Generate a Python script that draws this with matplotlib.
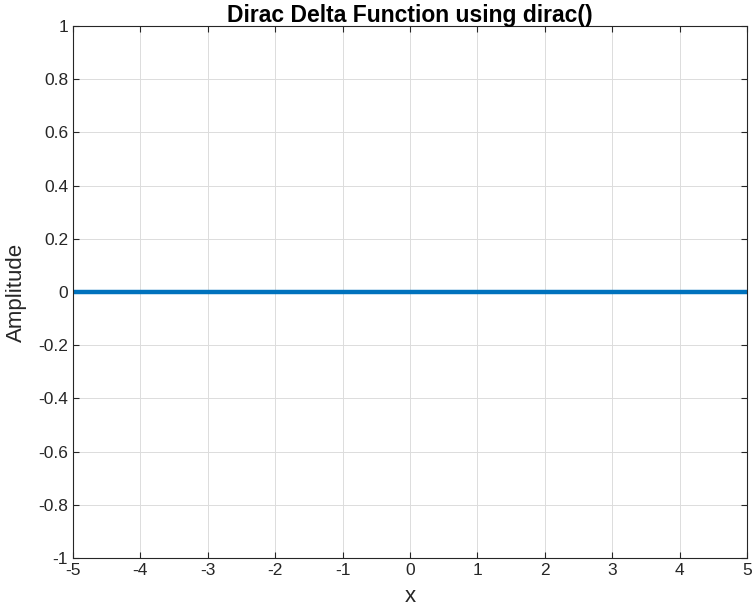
import matplotlib
matplotlib.use("Agg")
import matplotlib.pyplot as plt

x_vals = [-5, -4, -3, -2, -1, -0.5, 0.5, 1, 2, 3, 4, 5]
y_vals = [0, 0, 0, 0, 0, 0, 0, 0, 0, 0, 0, 0]
xticks = [-5, -4, -3, -2, -1, 0, 1, 2, 3, 4, 5]
yticks = [-1, -0.8, -0.6, -0.4, -0.2, 0, 0.2, 0.4, 0.6, 0.8, 1]
ytick_labels = ["-1", "-0.8", "-0.6", "-0.4", "-0.2", "0", "0.2", "0.4", "0.6", "0.8", "1"]

plt.rcParams['font.family'] = ['Liberation Sans', 'DejaVu Sans']
fig = plt.figure(figsize=(7.55, 6.15), dpi=100)
ax = fig.add_axes([0.0967, 0.0927, 0.8927, 0.865])
ax.plot(x_vals, y_vals, color='#0072BD', linewidth=3.2)
ax.set_xlim(-5, 5)
ax.set_ylim(-1, 1)
ax.set_xticks(xticks)
ax.set_xticklabels([str(t) for t in xticks])
ax.set_yticks(yticks)
ax.set_yticklabels(ytick_labels)
ax.grid(True, color='#dcdcdc', linewidth=0.7)
ax.set_axisbelow(True)
ax.tick_params(direction='in', labelsize=12.5, colors='#262626', length=4, top=True, right=True, labeltop=False, labelright=False)
for s in ax.spines.values():
    s.set_color('#262626')
    s.set_linewidth(0.8)
ax.set_title('Dirac Delta Function using dirac()', fontsize=16.5, fontweight='bold', pad=3)
ax.set_xlabel('x', fontsize=16, color='#262626', labelpad=6)
ax.set_ylabel('Amplitude', fontsize=16, color='#262626', labelpad=8)
fig.savefig('out.png', dpi=100)
